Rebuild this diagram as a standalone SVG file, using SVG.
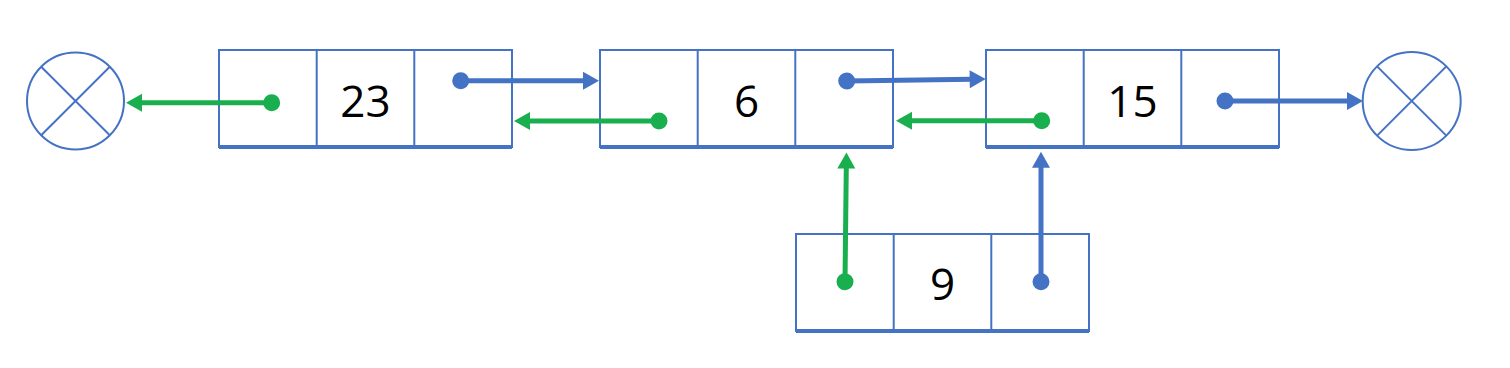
<svg xmlns="http://www.w3.org/2000/svg" width="1510" height="368" viewBox="0 0 1510 368">
<style>
.cell{fill:#fff;stroke:#4472C4;stroke-width:2}
.div{stroke:#4472C4;stroke-width:2}
.base{stroke:#4472C4;stroke-width:4}
.val{font-family:"Open Sans","Liberation Sans",sans-serif;font-size:44px;fill:#000;text-anchor:middle}
.nil{fill:#fff;stroke:#4472C4;stroke-width:2}
.ptrB{stroke:#4472C4;stroke-width:5;fill:none;marker-start:url(#dotB);marker-end:url(#headB)}
.ptrG{stroke:#19AF4F;stroke-width:5;fill:none;marker-start:url(#dotG);marker-end:url(#headG)}
</style>
<defs>
<marker id="headB" markerUnits="userSpaceOnUse" markerWidth="18" markerHeight="20" refX="2" refY="9" orient="auto" overflow="visible"><path d="M0,0 L16,9 L0,18 Z" fill="#4472C4"/></marker>
<marker id="headG" markerUnits="userSpaceOnUse" markerWidth="18" markerHeight="20" refX="2" refY="9" orient="auto" overflow="visible"><path d="M0,0 L16,9 L0,18 Z" fill="#19AF4F"/></marker>
<marker id="dotB" markerUnits="userSpaceOnUse" markerWidth="18" markerHeight="18" refX="9" refY="9" orient="auto" overflow="visible"><circle cx="9" cy="9" r="8.5" fill="#4472C4"/></marker>
<marker id="dotG" markerUnits="userSpaceOnUse" markerWidth="18" markerHeight="18" refX="9" refY="9" orient="auto" overflow="visible"><circle cx="9" cy="9" r="8.5" fill="#19AF4F"/></marker>
</defs>

<g id="nil-left">
<circle class="nil" cx="75.5" cy="101" r="48.5"/>
<path class="div" d="M41.2,66.7 L109.8,135.3 M109.8,66.7 L41.2,135.3"/>
</g>

<g id="node-23">
<rect class="cell" x="219" y="50" width="293" height="97"/>
<path class="div" d="M316.7,50 V147 M414.3,50 V147"/>
<path class="base" d="M219,147 H512"/>
<text class="val" x="365.5" y="117">23</text>
</g>

<g id="node-6">
<rect class="cell" x="600" y="50" width="293" height="97"/>
<path class="div" d="M697.7,50 V147 M795.3,50 V147"/>
<path class="base" d="M600,147 H893"/>
<text class="val" x="746.5" y="117">6</text>
</g>

<g id="node-15">
<rect class="cell" x="986" y="50" width="293" height="97"/>
<path class="div" d="M1083.7,50 V147 M1181.3,50 V147"/>
<path class="base" d="M986,147 H1279"/>
<text class="val" x="1132.5" y="117">15</text>
</g>

<g id="nil-right">
<circle class="nil" cx="1411.7" cy="101" r="49"/>
<path class="div" d="M1377.1,66.4 L1446.3,135.6 M1446.3,66.4 L1377.1,135.6"/>
</g>

<g id="node-9">
<rect class="cell" x="796" y="234" width="293" height="97"/>
<path class="div" d="M893.7,234 V331 M991.3,234 V331"/>
<path class="base" d="M796,331 H1089"/>
<text class="val" x="942.5" y="300">9</text>
</g>

<g id="connectors">
<path class="ptrG" d="M271.7,102.7 H140"/>
<path class="ptrB" d="M460.7,80.7 H585"/>
<path class="ptrG" d="M659,121 H528"/>
<path class="ptrB" d="M846.7,81 L971.7,79.2"/>
<path class="ptrG" d="M1041.7,120.7 H910"/>
<path class="ptrB" d="M1225,101 H1349"/>
<path class="ptrG" d="M845,281.7 L846.3,166.5"/>
<path class="ptrB" d="M1041,281.7 V165.7"/>
</g>
</svg>
